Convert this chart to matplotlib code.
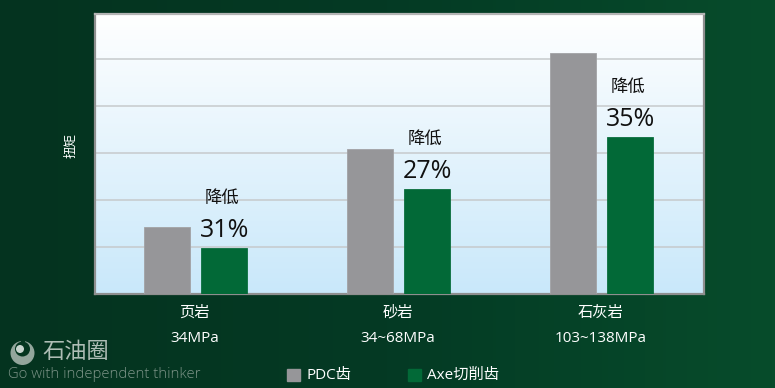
import matplotlib
matplotlib.use('Agg')
import matplotlib.pyplot as plt
from matplotlib.colors import LinearSegmentedColormap
from matplotlib.patches import Circle, Rectangle
import numpy as np

plt.rcParams['font.family'] = ['Open Sans', 'Noto Sans CJK SC', 'DejaVu Sans']

rock_names = ['页岩', '砂岩', '石灰岩']
pressures = ['34MPa', '34~68MPa', '103~138MPa']
pdc_values = [1.43, 3.09, 5.13]
axe_values = [0.98, 2.23, 3.34]
reductions = ['31%', '27%', '35%']
series_names = ['PDC齿', 'Axe切削齿']

W, H = 775, 388
fig = plt.figure(figsize=(W / 100, H / 100), dpi=100)


def px_axes(left, top, right, bottom, **kw):
    return fig.add_axes([left / W, 1 - bottom / H, (right - left) / W, (bottom - top) / H], **kw)


# dark green page background, a bit lighter to the right
bg = fig.add_axes([0, 0, 1, 1], zorder=0)
bg_cmap = LinearSegmentedColormap.from_list('bg', ['#04331f', '#043a24', '#074c2b'])
bg.imshow(np.linspace(0, 1, 256).reshape(1, -1), aspect='auto', cmap=bg_cmap, extent=[0, W, H, 0])
bg.set_xlim(0, W)
bg.set_ylim(H, 0)
bg.axis('off')

ax = px_axes(95, 14, 704, 294, zorder=2)
ax.set_xlim(-0.495, 2.505)
ax.set_ylim(0, 280 / 47)

# white to pale blue plot area
area_cmap = LinearSegmentedColormap.from_list('area', ['#ffffff', '#c9e8fa'])
ax.imshow(np.linspace(0, 1, 256).reshape(-1, 1), aspect='auto', cmap=area_cmap,
          extent=[-0.495, 2.505, 0, 280 / 47], zorder=0)

ax.set_yticks([1, 2, 3, 4, 5])
ax.set_yticklabels([])
ax.tick_params(left=False, bottom=False)
ax.grid(axis='y', color='#c6cacc', lw=1.1, zorder=1)
for s in ax.spines.values():
    s.set_color('#8f8f8f')
    s.set_linewidth(1.6)
ax.spines['top'].set_color('#b4b4b4')

x = np.arange(len(rock_names))
bar_w = 0.227
off = 0.14
ax.bar(x - off, pdc_values, bar_w, color='#969699', edgecolor='#a2a2a5', lw=0.6, zorder=3)
ax.bar(x + off, axe_values, bar_w, color='#026937', edgecolor='#0a6f3e', lw=0.6, zorder=3)

for i in x:
    top = axe_values[i]
    ax.text(i + off + 0.002, top + 0.37, reductions[i], ha='center', va='center', fontsize=18,
            color='#111111', zorder=4)
    ax.text(i + off - 0.008, top + 1.05, '降低', ha='center', va='center', fontsize=12.5,
            color='#111111', zorder=4)

ax.set_xticks(x)
ax.set_xticklabels([])
for i in x:
    ax.annotate(rock_names[i], (i, 0), xytext=(-0.7, -13.7), xycoords=('data', 'axes fraction'),
                textcoords='offset points', ha='center', va='center', color='white', fontsize=11)
    ax.annotate(pressures[i], (i, 0), xytext=(-0.7, -32.2), xycoords=('data', 'axes fraction'),
                textcoords='offset points', ha='center', va='center', color='white', fontsize=11)

fig.text(71 / W, 1 - 146 / H, '扭矩', rotation=90, ha='center', va='center', color='white', fontsize=9)

# legend and watermark go on top of the background in pixel coords
over = fig.add_axes([0, 0, 1, 1], zorder=3)
over.set_xlim(0, W)
over.set_ylim(H, 0)
over.axis('off')
over.patch.set_alpha(0)

over.add_patch(Rectangle((287, 369), 13, 12, color='#969699'))
over.text(307, 375, series_names[0], color='white', fontsize=11, va='center')
over.add_patch(Rectangle((408, 369), 13, 12, color='#026937'))
over.text(427, 375, series_names[1], color='white', fontsize=11, va='center')

# logo: pale disc with a dark centre and a notch at the top
over.add_patch(Circle((22.5, 353), 12, color='#93a69c', lw=0))
over.add_patch(Circle((22.5, 349), 7.5, color='#04351f', lw=0))
over.add_patch(Rectangle((21, 340), 4, 4, color='#04351f', lw=0))
over.add_patch(Circle((20, 349), 4, color='#c8d4ce', lw=0))
over.text(42, 353, '石油圈', color='#aebdb5', fontsize=16, va='center', fontweight='light')
over.text(8, 374, 'Go with independent thinker', color='#7d9488', fontsize=10.7, va='center',
          fontweight='light')

fig.savefig('out.png', dpi=100)
